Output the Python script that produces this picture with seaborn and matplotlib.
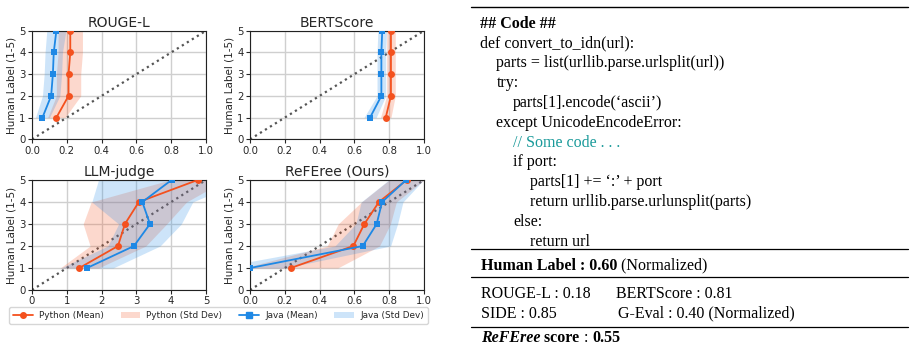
import matplotlib
matplotlib.use("Agg")
import matplotlib.pyplot as plt
import seaborn as sns
import numpy as np
import pandas as pd
from matplotlib.lines import Line2D

# ---------------- data ----------------
human_labels = [1, 2, 3, 4, 5]

rouge_py_mean = [0.14, 0.21, 0.21, 0.22, 0.22]
rouge_py_std = [0.05, 0.07, 0.07, 0.07, 0.07]
rouge_java_mean = [0.06, 0.11, 0.12, 0.125, 0.14]
rouge_java_std = [0.04, 0.05, 0.05, 0.05, 0.055]

bert_py_mean = [0.78, 0.81, 0.81, 0.81, 0.81]
bert_py_std = [0.03, 0.025, 0.025, 0.025, 0.025]
bert_java_mean = [0.69, 0.755, 0.755, 0.755, 0.76]
bert_java_std = [0.035, 0.025, 0.025, 0.025, 0.025]

llm_py_mean = [1.36, 2.47, 2.67, 3.07, 4.76]
llm_py_std = [0.55, 0.80, 1.20, 1.37, 0.80]
llm_java_mean = [1.58, 2.93, 3.39, 3.17, 4.01]
llm_java_std = [0.75, 0.75, 0.90, 1.45, 2.10]

ref_py_mean = [0.234, 0.594, 0.657, 0.741, 0.90]
ref_py_std = [0.27, 0.15, 0.15, 0.10, 0.10]
ref_java_mean = [0.0, 0.648, 0.728, 0.759, 0.897]
ref_java_std = [0.20, 0.16, 0.12, 0.12, 0.10]

panel_titles = ["ROUGE-L", "BERTScore", "LLM-judge", "ReFEree (Ours)"]
panel_xmax = [1.0, 1.0, 5.0, 1.0]
y_label = "Human Label (1-5)"
legend_labels = ["Python (Mean)", "Python (Std Dev)", "Java (Mean)", "Java (Std Dev)"]

code_lines = [
    (0, [("## Code ##", "bold", "normal", "k")]),
    (0, [("def convert_to_idn(url):", "normal", "normal", "k")]),
    (1, [("parts = list(urllib.parse.urlsplit(url))", "normal", "normal", "k")]),
    (1, [("try:", "normal", "normal", "k")]),
    (2, [("parts[1].encode(\u2018ascii\u2019)", "normal", "normal", "k")]),
    (1, [("except UnicodeEncodeError:", "normal", "normal", "k")]),
    (2, [("// Some code . . .", "normal", "normal", "#1a9a9a")]),
    (2, [("if port:", "normal", "normal", "k")]),
    (3, [("parts[1] += \u2018:\u2019 + port", "normal", "normal", "k")]),
    (3, [("return urllib.parse.urlunsplit(parts)", "normal", "normal", "k")]),
    (2, [("else:", "normal", "normal", "k")]),
    (3, [("return url", "normal", "normal", "k")]),
]
human_line = [("Human Label : 0.60", "bold", "normal", "k"), (" (Normalized)", "normal", "normal", "k")]
metric_row1 = [("ROUGE-L : 0.18", 0), ("BERTScore : 0.81", 135)]
metric_row2 = [("SIDE : 0.85", 0), ("G-Eval : 0.40 (Normalized)", 137)]
referee_line = [("ReFEree", "bold", "italic", "k"), (" score", "bold", "normal", "k"),
                (" : ", "normal", "normal", "k"), ("0.55", "bold", "normal", "k")]

# ---------------- style ----------------
sns.set_style("ticks", {"axes.grid": True, "grid.color": "#cfcfcf",
                        "axes.edgecolor": "#222222"})
plt.rcParams["font.family"] = ["DejaVu Sans"]

RED = "#f4511e"
BLUE = "#1e88e5"
W, H = 915, 346

fig = plt.figure(figsize=(W / 100, H / 100), dpi=100)

def fx(px):
    return px / W

def fy(py):
    return 1 - py / H

panel_rects = [
    (32, 30.7, 174, 108.6),
    (250, 30.7, 174, 108.6),
    (32, 180, 174, 110),
    (250, 180, 174, 110),
]
panel_data = [
    (rouge_py_mean, rouge_py_std, rouge_java_mean, rouge_java_std),
    (bert_py_mean, bert_py_std, bert_java_mean, bert_java_std),
    (llm_py_mean, llm_py_std, llm_java_mean, llm_java_std),
    (ref_py_mean, ref_py_std, ref_java_mean, ref_java_std),
]

handles = None
for i, (rect, data) in enumerate(zip(panel_rects, panel_data)):
    l, t, w, h = rect
    ax = fig.add_axes([fx(l), fy(t + h), w / W, h / H])
    py_m, py_s, jv_m, jv_s = [np.array(a, dtype=float) for a in data]
    y = np.array(human_labels, dtype=float)
    xmax = panel_xmax[i]

    # diagonal reference
    ax.plot([0, xmax], [0, 5], ls=":", color="#555555", lw=1.6, zorder=1)

    fp = ax.fill_betweenx(y, py_m - py_s, py_m + py_s, color=RED, alpha=0.22, lw=0,
                          zorder=2)
    fj = ax.fill_betweenx(y, jv_m - jv_s, jv_m + jv_s, color=BLUE, alpha=0.22, lw=0,
                          zorder=2)

    df_py = pd.DataFrame({"x": py_m, "y": y})
    df_jv = pd.DataFrame({"x": jv_m, "y": y})
    sns.lineplot(data=df_py, x="x", y="y", orient="y", ax=ax, color=RED, marker="o",
                 markersize=5, markeredgewidth=0, lw=1.3, errorbar=None,
                 legend=False, zorder=3)
    sns.lineplot(data=df_jv, x="x", y="y", orient="y", ax=ax, color=BLUE, marker="s",
                 markersize=5, markeredgewidth=0, lw=1.3, errorbar=None,
                 legend=False, zorder=3)

    ax.set_xlim(0, xmax)
    ax.set_ylim(0, 5)
    ax.set_yticks([0, 1, 2, 3, 4, 5])
    if xmax == 5:
        ax.set_xticks([0, 1, 2, 3, 4, 5])
    else:
        ax.set_xticks([0, 0.2, 0.4, 0.6, 0.8, 1.0])
        ax.set_xticklabels(["0.0", "0.2", "0.4", "0.6", "0.8", "1.0"])
    ax.set_xlabel("")
    ax.set_ylabel(y_label, fontsize=7.5, labelpad=2)
    ax.set_title(panel_titles[i], fontsize=10, pad=3)
    ax.tick_params(labelsize=7.3, length=3, width=0.8, pad=1.5)
    ax.grid(True, color="#cfcfcf", lw=1.0)
    for s in ax.spines.values():
        s.set_linewidth(0.8)
        s.set_color("#222222")

    if i == 0:
        handles = [
            Line2D([], [], color=RED, marker="o", markersize=4, lw=1.3),
            fp,
            Line2D([], [], color=BLUE, marker="s", markersize=4, lw=1.3),
            fj,
        ]

fig.legend(handles, legend_labels, loc="center", bbox_to_anchor=(fx(218.5), fy(315.5)),
           ncol=4, fontsize=6.4, frameon=True, borderpad=0.4, handlelength=2.2,
           columnspacing=1.9, handletextpad=0.7, edgecolor="#cccccc", fancybox=True)

# ---------------- table on the right ----------------
SERIF = ["Liberation Serif", "DejaVu Serif"]
FS = 11.5
renderer = fig.canvas.get_renderer()

def draw_runs(x_px, base_px, runs):
    x = x_px
    for txt, weight, style, color in runs:
        t = fig.text(fx(x), fy(base_px), txt, fontsize=FS, family=SERIF, weight=weight,
                     style=style, color=color, ha="left", va="baseline")
        bb = t.get_window_extent(renderer=renderer)
        x += bb.width

def hline(y_px, lw=0.9):
    fig.add_artist(Line2D([fx(471), fx(908)], [fy(y_px), fy(y_px)], color="k", lw=lw,
                          transform=fig.transFigure))

hline(7, 1.0)
base0 = 27.5
for k, (indent, runs) in enumerate(code_lines):
    draw_runs(480 + 16.5 * indent, base0 + 19.85 * k, runs)
hline(249)
draw_runs(481, 269.5, human_line)
hline(277)
for txt, dx in metric_row1:
    draw_runs(481 + dx, 297.5, [(txt, "normal", "normal", "k")])
for txt, dx in metric_row2:
    draw_runs(481 + dx, 317.5, [(txt, "normal", "normal", "k")])
hline(327)
draw_runs(481, 342.5, referee_line)

fig.savefig("out.png", dpi=100)
